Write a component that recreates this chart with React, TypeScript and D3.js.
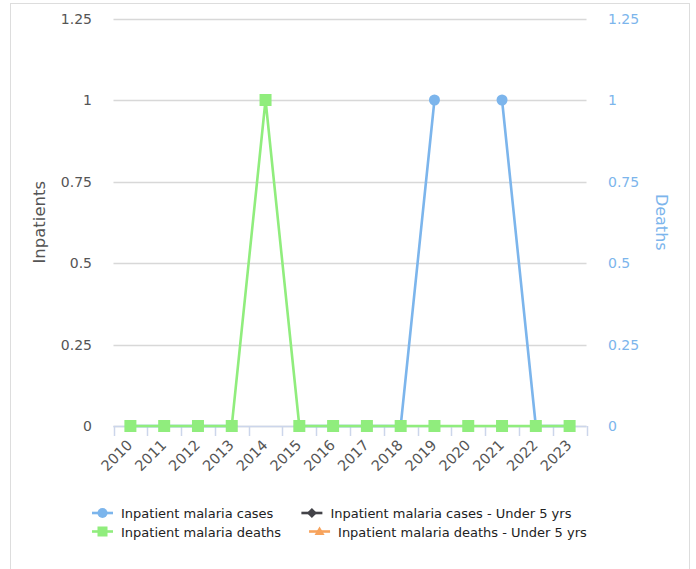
import React from "react";
import * as d3 from "d3";

const years = ["2010","2011","2012","2013","2014","2015","2016","2017","2018","2019","2020","2021","2022","2023"];
const casesValues: (number | null)[] = [0,0,0,0,null,0,0,0,0,1,null,1,0,0];
const casesU5Values: (number | null)[] = [null,null,null,null,null,null,null,null,null,null,null,null,null,null];
const deathsValues: (number | null)[] = [0,0,0,0,1,0,0,0,0,0,0,0,0,0];
const deathsU5Values: (number | null)[] = [null,null,null,null,null,null,null,null,null,null,null,null,null,null];
const yTicks = [0, 0.25, 0.5, 0.75, 1, 1.25];

const W = 696, H = 569;
const FONT = "'DejaVu Sans', sans-serif";

type Series = { name: string; values: (number | null)[]; color: string; symbol: "circle" | "square" | "diamond" | "triangle" };
const series: Series[] = [
  { name: "Inpatient malaria cases", values: casesValues, color: "#7cb5ec", symbol: "circle" },
  { name: "Inpatient malaria cases - Under 5 yrs", values: casesU5Values, color: "#434348", symbol: "diamond" },
  { name: "Inpatient malaria deaths", values: deathsValues, color: "#90ed7d", symbol: "square" },
  { name: "Inpatient malaria deaths - Under 5 yrs", values: deathsU5Values, color: "#f7a35c", symbol: "triangle" },
];
const drawOrder = [0, 1, 2, 3];

function measure(text: string, font: string): number {
  const c = document.createElement("canvas").getContext("2d");
  if (!c) return text.length * 7;
  c.font = font;
  return c.measureText(text).width;
}

function Marker({ s, x, y, size }: { s: Series; x: number; y: number; size: number }) {
  if (s.symbol === "circle") return <circle cx={x} cy={y} r={size / 2} fill={s.color} />;
  if (s.symbol === "square") return <rect x={x - size / 2} y={y - size / 2} width={size} height={size} fill={s.color} />;
  if (s.symbol === "diamond") {
    const r = size / 2;
    return <path d={`M${x},${y - r}L${x + r},${y}L${x},${y + r}L${x - r},${y}Z`} fill={s.color} />;
  }
  const r = size / 2;
  return <path d={`M${x},${y - r}L${x + r},${y + r * 0.7}L${x - r},${y + r * 0.7}Z`} fill={s.color} />;
}

export default function App() {
  const left = 113.5, right = 586.5, top = 18.5, bottom = 426;
  const x = d3.scaleBand<string>().domain(years).range([left, right]);
  const yL = d3.scaleLinear().domain([0, 1.25]).range([bottom, top]);
  const yR = d3.scaleLinear().domain([0, 1.25]).range([bottom, top]);
  const cx = (c: string) => (x(c) as number) + x.bandwidth() / 2;

  const line = d3.line<{ c: string; v: number | null }>()
    .defined((d) => d.v !== null)
    .x((d) => cx(d.c))
    .y((d) => yL(d.v as number));

  const legendFont = `13px ${FONT}`;
  const rows = [[0, 1], [2, 3]];
  const legendItems: { s: Series; x: number; y: number }[] = [];
  rows.forEach((row, ri) => {
    let lx = 92;
    row.forEach((si) => {
      legendItems.push({ s: series[si], x: lx, y: 513 + ri * 18.5 });
      lx += 29 + measure(series[si].name, legendFont) + 28;
    });
  });

  const boundaries = [...years.map((c) => x(c) as number), right];

  return (
    <svg width={W} height={H} style={{ position: "absolute", left: 0, top: 0, fontFamily: FONT }}>
      <rect x={0} y={0} width={W} height={H} fill="#ffffff" />
      <rect x={10.5} y={3.5} width={679} height={620} fill="none" stroke="#dddddd" />
      {yTicks.map((t) => (
        <line key={t} x1={left} x2={right} y1={Math.round(yL(t)) + 0.5} y2={Math.round(yL(t)) + 0.5} stroke="#d8d8d8" strokeWidth={1.5} />
      ))}
      <line x1={left} x2={right} y1={bottom + 0.5} y2={bottom + 0.5} stroke="#ccd6eb" strokeWidth={1.5} />
      {boundaries.map((b, i) => (
        <line key={i} x1={Math.round(b) + 0.5} x2={Math.round(b) + 0.5} y1={bottom} y2={bottom + 10} stroke="#ccd6eb" strokeWidth={1.5} />
      ))}
      {yTicks.map((t) => (
        <text key={"l" + t} x={92} y={yL(t) + 5} textAnchor="end" fontSize={14} fill="#555555">{t}</text>
      ))}
      {yTicks.map((t) => (
        <text key={"r" + t} x={608} y={yR(t) + 5} textAnchor="start" fontSize={14} fill="#7cb5ec">{t}</text>
      ))}
      {years.map((c) => (
        <text key={c} transform={`translate(${cx(c) + 3},${446}) rotate(-45)`} textAnchor="end" fontSize={14.5} fill="#555555">{c}</text>
      ))}
      <text transform={`translate(45,${(top + bottom) / 2}) rotate(-90)`} textAnchor="middle" fontSize={16.5} fill="#555555">Inpatients</text>
      <text transform={`translate(656,${(top + bottom) / 2}) rotate(90)`} textAnchor="middle" fontSize={16} fill="#7cb5ec">Deaths</text>
      {drawOrder.map((si) => {
        const s = series[si];
        const data = years.map((c, i) => ({ c, v: s.values[i] }));
        return (
          <g key={s.name}>
            <path d={line(data) || ""} fill="none" stroke={s.color} strokeWidth={2.6} strokeLinejoin="round" strokeLinecap="round" />
            {data.filter((d) => d.v !== null).map((d) => (
              <Marker key={d.c} s={s} x={cx(d.c)} y={yL(d.v as number)} size={s.symbol === "square" ? 12 : 11} />
            ))}
          </g>
        );
      })}
      {legendItems.map((it) => (
        <g key={it.s.name}>
          <line x1={it.x} x2={it.x + 21} y1={it.y} y2={it.y} stroke={it.s.color} strokeWidth={2.6} />
          <Marker s={it.s} x={it.x + 10.5} y={it.y} size={10} />
          <text x={it.x + 29} y={it.y + 5} fontSize={13} fill="#222222">{it.s.name}</text>
        </g>
      ))}
    </svg>
  );
}
